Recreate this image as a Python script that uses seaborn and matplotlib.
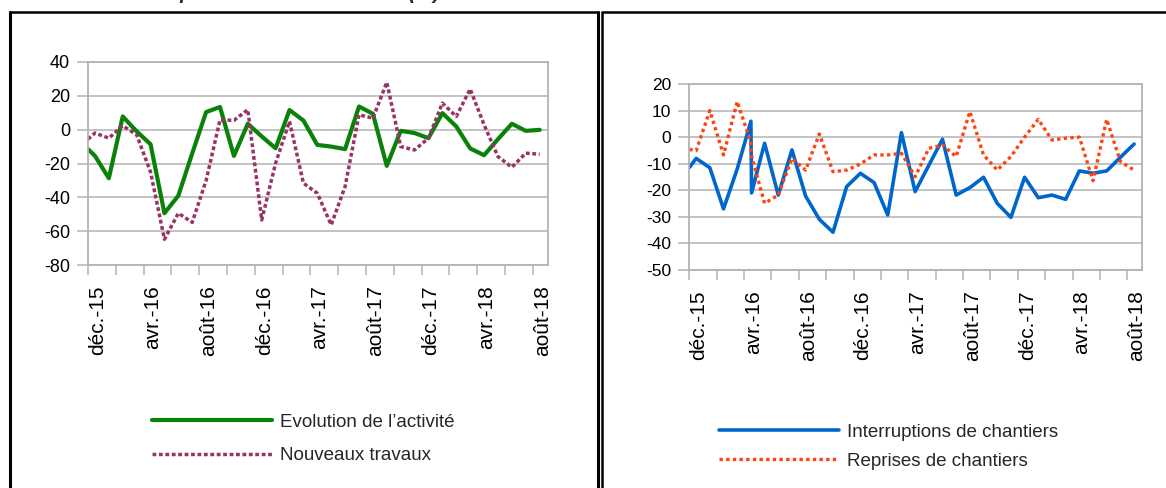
import matplotlib
matplotlib.use("Agg")
import matplotlib.pyplot as plt
from matplotlib.lines import Line2D
import seaborn as sns
import pandas as pd

# --- data (months counted from déc. 2015) ---------------------------------
tick_labels = ["déc.-15", "avr.-16", "août-16", "déc.-16", "avr.-17",
               "août-17", "déc.-17", "avr.-18", "août-18"]

months_left = [0, 0.5, 1.5, 2.5, 3.5, 4.5, 5.5, 6.5, 7.5, 8.5, 9.5, 10.5,
               11.5, 12.5, 13.5, 14.5, 15.5, 16.5, 17.5, 18.5, 19.5, 20.5,
               21.5, 22.5, 23.5, 24.5, 25.5, 26.5, 27.5, 28.5, 29.5, 30.5,
               31.5, 32.5]
activite = [-11.5, -15.5, -28.7, 7.8, -1, -8.6, -49.4, -39, -14, 10.4, 13.4,
            -15.5, 3.5, -4, -11, 11.6, 5.4, -9, -10, -11.5, 13.7, 9.4, -21.4,
            -0.7, -2, -5, 9.8, 1.9, -11.1, -15.1, -5.6, 3.5, -0.7, -0.1]
nouveaux = [-5.6, -2, -5, 2.3, -3, -25, -64.8, -49.4, -54.8, -30, 5.8, 5.5,
            11.8, -53.4, -19.8, 4.9, -31.6, -37.6, -56.3, -33.6, 8.8, 6.8, 28,
            -10, -12, -5, 15.7, 7.8, 24, 2.9, -15.9, -22.2, -13.9, -14.5]

months_right = [0, 0.5, 1.5, 2.5, 3.5, 4.5, 4.55, 5.5, 6.5, 7.5, 8.5, 9.5,
                10.5, 11.5, 12.5, 13.5, 14.5, 15.5, 16.5, 17.5, 18.5, 19.5,
                20.5, 21.5, 22.5, 23.5, 24.5, 25.5, 26.5, 27.5, 28.5, 29.5,
                30.5, 31.5, 32.5]
interruptions = [-11.4, -8, -11.5, -27, -12, 6, -21, -2.3, -21.8, -4.8, -22.2,
                 -30.9, -35.8, -18.6, -13.6, -17.1, -29.3, 1.7, -20.5, -10.6,
                 -0.8, -21.8, -19, -15.1, -24.9, -30.2, -15.1, -22.8, -21.8,
                 -23.4, -12.7, -13.6, -12.7, -7.6, -2.6]
reprises = [-4.6, -5.1, 10, -6.7, 13.4, -2, -7, -24.9, -21.8, -8, -12.4, 1.2,
            -13, -12.4, -10.1, -6.7, -6.7, -6.1, -14.9, -4.2, -3, -7.3, 9.6,
            -6.7, -12.4, -7.3, 0, 6.7, -1.1, -0.4, 0, -16.4, 6.7, -9.2, -12.4]

left_df = pd.DataFrame({"mois": months_left, "act": activite, "nouv": nouveaux})
right_df = pd.DataFrame({"mois": months_right, "int": interruptions, "rep": reprises})

# --- style -----------------------------------------------------------------
sns.set_theme(style="white")
plt.rcParams["font.family"] = ["Liberation Sans", "DejaVu Sans"]
plt.rcParams["axes.unicode_minus"] = False

W, H = 1166, 488
GRID = "#b3b3b3"

fig = plt.figure(figsize=(W / 100, H / 100), dpi=100)
ax1 = fig.add_axes([88 / W, 1 - 265 / H, (548 - 88) / W, (265 - 62) / H])
ax2 = fig.add_axes([689.3 / W, 1 - 270 / H, (1142.3 - 689.3) / W, (270 - 84) / H])

sns.lineplot(data=left_df, x="mois", y="act", ax=ax1, color="#0a820a",
             lw=3.0, sort=False, estimator=None,
             label="Evolution de l\u2019activit\u00e9")
sns.lineplot(data=left_df, x="mois", y="nouv", ax=ax1, color="#993366",
             lw=2.5, sort=False, estimator=None, label="Nouveaux travaux")
ax1.lines[1].set_dashes((1.1, 0.75))
ax1.lines[1].set_dash_capstyle("butt")

sns.lineplot(data=right_df, x="mois", y="int", ax=ax2, color="#0066cc",
             lw=2.6, sort=False, estimator=None,
             label="Interruptions de chantiers")
sns.lineplot(data=right_df, x="mois", y="rep", ax=ax2, color="#ff420e",
             lw=2.4, sort=False, estimator=None,
             label="Reprises de chantiers")
ax2.lines[1].set_dashes((1.0, 1.0))
ax2.lines[1].set_dash_capstyle("butt")

for ax, (ylo, yhi, step), ysize in ((ax1, (-80, 40, 20), 13),
                                     (ax2, (-50, 20, 10), 12.5)):
    ax.set_xlim(0, 33.1)
    ax.set_ylim(ylo, yhi)
    ax.set_yticks(range(ylo, yhi + 1, step))
    ax.set_xticks(range(0, 33, 2))
    # one label every four months, on every other tick
    ax.set_xticklabels([tick_labels[i // 2] if i % 2 == 0 else ""
                        for i in range(0, 17)], rotation=90, fontsize=15,
                       va="top", ha="left")
    ax.tick_params(axis="y", labelsize=ysize, length=8, width=1.1,
                   color=GRID, pad=5, left=True, labelcolor="black")
    ax.tick_params(axis="x", length=7.5, width=1.1, color=GRID, pad=7,
                   bottom=True, labelcolor="black")
    ax.grid(axis="y", color=GRID, lw=1.1)
    ax.grid(axis="x", visible=False)
    for sp in ax.spines.values():
        sp.set_visible(True)
        sp.set_color(GRID)
        sp.set_linewidth(1.3)
    ax.set_xlabel("")
    ax.set_ylabel("")
    ax.set_facecolor("white")

ax1.legend(loc="center left", bbox_to_anchor=(152 / W, 1 - 438.9 / H),
           bbox_transform=fig.transFigure, frameon=False, fontsize=13.5,
           handlelength=6.4, handletextpad=0.45, labelspacing=0.88,
           borderpad=0, borderaxespad=0)
ax2.legend(loc="center left", bbox_to_anchor=(719 / W, 1 - 446.7 / H),
           bbox_transform=fig.transFigure, frameon=False, fontsize=13.5,
           handlelength=6.4, handletextpad=0.45, labelspacing=0.62,
           borderpad=0, borderaxespad=0)

# panel frames
def fline(xs, ys, lw):
    fig.add_artist(Line2D([x / W for x in xs], [1 - y / H for y in ys],
                          transform=fig.transFigure, color="black", lw=lw,
                          solid_capstyle="butt"))

fline([8.5, 598.5], [12.3, 12.3], 1.8)
fline([10, 10], [11.3, 490], 2.2)
fline([597.6, 597.6], [11.3, 490], 2.2)
fline([601.6, 1170], [12.3, 12.3], 1.8)
fline([601.6, 601.6], [11.3, 490], 1.8)

# chart heading, mostly above the top edge
fig.text(67 / W, 1 + 1 / H, "Activit\u00e9 et opinion dans le b\u00e2timent (%)",
         fontsize=14.4, fontweight="bold", fontstyle="italic", va="baseline")

fig.savefig("out.png", dpi=100)
